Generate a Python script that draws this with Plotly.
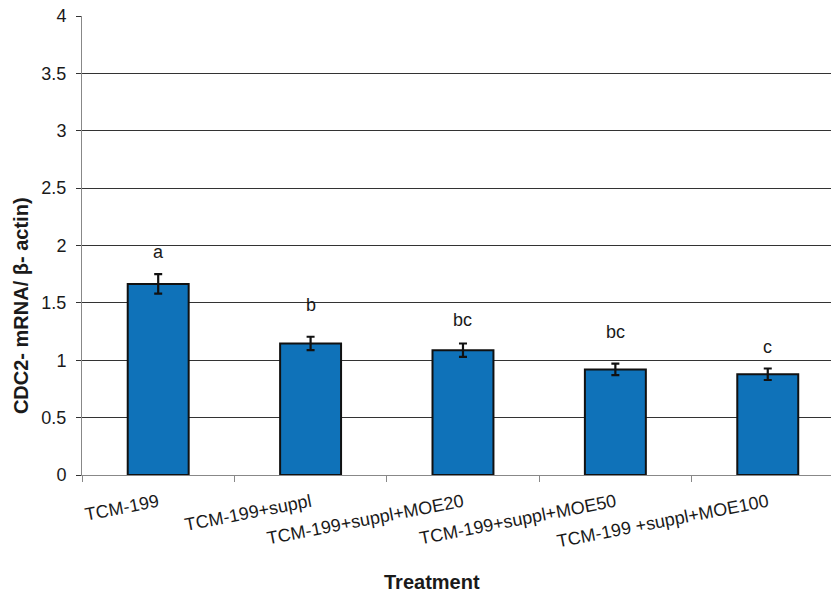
import plotly.graph_objects as go

categories = ["TCM-199", "TCM-199+suppl", "TCM-199+suppl+MOE20",
              "TCM-199+suppl+MOE50", "TCM-199 +suppl+MOE100"]
values = [1.665, 1.147, 1.088, 0.920, 0.878]
errors = [0.085, 0.058, 0.058, 0.050, 0.050]
letters = ["a", "b", "bc", "bc", "c"]
letter_heights = [1.94, 1.48, 1.35, 1.25, 1.115]
y_ticks = [0, 0.5, 1, 1.5, 2, 2.5, 3, 3.5, 4]
y_tick_labels = ["0", "0.5", "1", "1.5", "2", "2.5", "3", "3.5", "4"]

font = "Liberation Sans, Arial, sans-serif"
txt = "#1a1a1a"

fig = go.Figure()
fig.add_trace(go.Bar(
    x=categories, y=values,
    width=0.4,
    marker=dict(color="#0f72b9", line=dict(color="#111111", width=2)),
    error_y=dict(type="data", array=errors, visible=True,
                 color="#111111", thickness=2.2, width=4),
    showlegend=False,
))

for c, l, h in zip(categories, letters, letter_heights):
    fig.add_annotation(x=c, y=h, text=l, showarrow=False,
                       font=dict(family=font, size=18, color=txt),
                       xref="x", yref="y")

fig.add_annotation(x=0.467, y=-0.233, xref="paper", yref="paper",
                   text="<b>Treatment</b>", showarrow=False,
                   xanchor="center", yanchor="middle",
                   font=dict(family=font, size=20, color=txt))
fig.add_annotation(x=-0.0814, y=0.368, xref="paper", yref="paper",
                   text="<b>CDC2- mRNA/ β- actin)</b>", showarrow=False,
                   textangle=-90, xanchor="center", yanchor="middle",
                   font=dict(family=font, size=20, color=txt))

fig.update_layout(
    width=831, height=594,
    margin=dict(l=82, r=0, t=16, b=119, autoexpand=False),
    paper_bgcolor="white", plot_bgcolor="white",
    font=dict(family=font, size=18, color=txt),
    xaxis=dict(
        range=[-0.5, 4.415],
        tickangle=-11,
        tickson="boundaries",
        ticks="outside", ticklen=6, tickcolor="#888888",
        ticklabelstandoff=9,
        showline=True, linecolor="#888888", linewidth=1,
        showgrid=False, automargin=False,
        tickfont=dict(family=font, size=18, color=txt),
    ),
    yaxis=dict(
        range=[0, 4],
        tickvals=y_ticks, ticktext=y_tick_labels,
        ticks="outside", ticklen=5, tickcolor="#333333",
        ticklabelstandoff=6,
        showline=True, linecolor="#888888", linewidth=1,
        showgrid=True, gridcolor="#333333", gridwidth=1,
        zeroline=False, automargin=False,
        tickfont=dict(family=font, size=18, color=txt),
    ),
)

fig.write_html("out.html",
               config={"displayModeBar": False},
               post_script="document.body.style.margin='0';document.body.style.overflow='hidden';")
